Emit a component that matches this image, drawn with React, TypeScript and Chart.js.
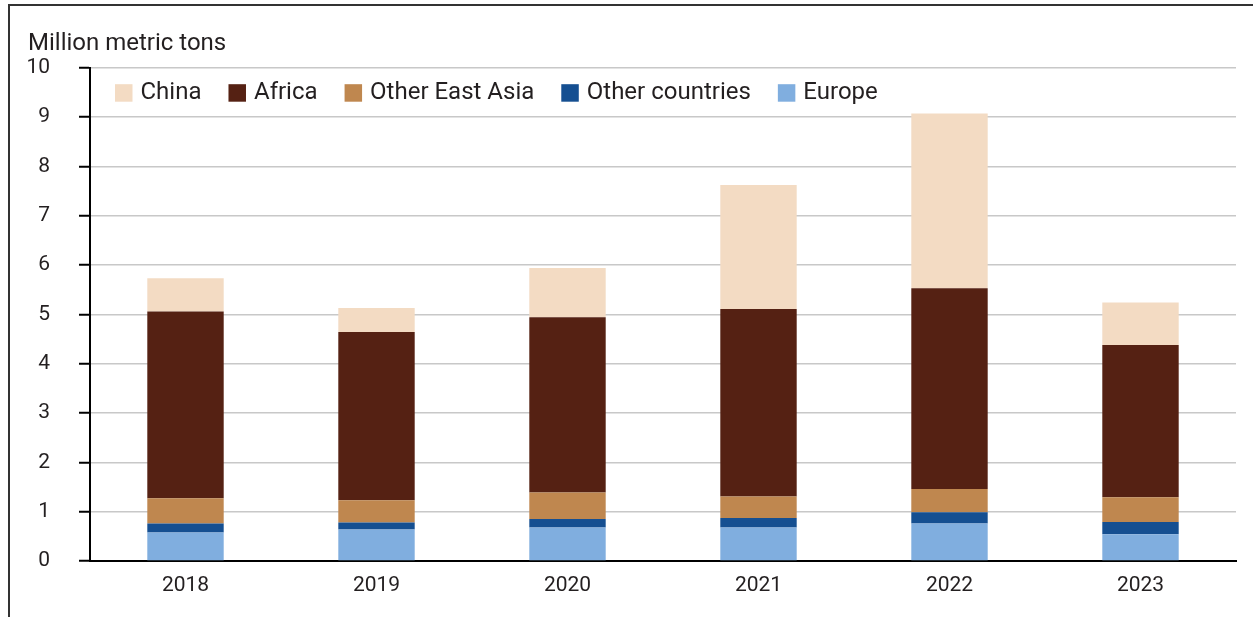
import React, { useEffect, useRef } from "react";
import { Chart, registerables } from "chart.js";

Chart.register(...registerables);

const years = ["2018", "2019", "2020", "2021", "2022", "2023"];
const europe = [0.58, 0.64, 0.68, 0.68, 0.76, 0.54];
const otherCountries = [0.18, 0.14, 0.17, 0.19, 0.23, 0.25];
const otherEastAsia = [0.51, 0.45, 0.54, 0.44, 0.47, 0.5];
const africa = [3.79, 3.41, 3.55, 3.8, 4.07, 3.09];
const china = [0.67, 0.49, 1.0, 2.51, 3.54, 0.86];
const yTicks = [0, 1, 2, 3, 4, 5, 6, 7, 8, 9, 10];
const yTitle = "Million metric tons";

const FONT = "Roboto, 'Liberation Sans', Arial, sans-serif";
const TEXT = "#231f20";

const titlePlugin = {
  id: "yTitleText",
  afterDraw(chart: any) {
    const ctx = chart.ctx;
    ctx.save();
    ctx.font = `24px ${FONT}`;
    ctx.fillStyle = TEXT;
    ctx.textAlign = "left";
    ctx.textBaseline = "alphabetic";
    ctx.fillText(yTitle, 28, 50);
    ctx.restore();
  },
};

const legendPlugin = {
  id: "insideLegend",
  afterDraw(chart: any) {
    const ctx = chart.ctx;
    const ds = chart.data.datasets.slice().reverse();
    ctx.save();
    ctx.font = `24px ${FONT}`;
    ctx.textAlign = "left";
    ctx.textBaseline = "middle";
    let x = chart.chartArea.left + 25;
    const box = 17.5;
    const top = 84.2;
    ds.forEach((d: any) => {
      ctx.fillStyle = d.backgroundColor;
      ctx.fillRect(x, top, box, box);
      const tx = x + box + 8;
      ctx.fillStyle = TEXT;
      ctx.fillText(d.label, tx, top + box / 2 + 0.5);
      const w = ctx.measureText(d.label).width;
      x = tx + w + 27;
    });
    ctx.restore();
  },
};

export default function App() {
  const ref = useRef<HTMLCanvasElement | null>(null);

  useEffect(() => {
    if (!ref.current) return;
    const chart = new Chart(ref.current, {
      type: "bar",
      data: {
        labels: years,
        datasets: [
          { label: "Europe", data: europe, backgroundColor: "#80aedf" },
          { label: "Other countries", data: otherCountries, backgroundColor: "#154f91" },
          { label: "Other East Asia", data: otherEastAsia, backgroundColor: "#bf874f" },
          { label: "Africa", data: africa, backgroundColor: "#552113" },
          { label: "China", data: china, backgroundColor: "#f3dbc3" },
        ],
      },
      options: {
        responsive: false,
        animation: false,
        layout: { padding: { left: 28, top: 67.7, right: 17, bottom: 0 } },
        datasets: {
          bar: { barPercentage: 0.4, categoryPercentage: 1.0, borderWidth: 0 },
        },
        plugins: {
          legend: { display: false },
          tooltip: { enabled: false },
          title: { display: false },
        },
        scales: {
          x: {
            stacked: true,
            afterFit: (s: any) => {
              s.height = 56;
            },
            grid: { display: false, drawTicks: false },
            border: { display: true, color: "#000", width: 2 },
            ticks: {
              color: TEXT,
              font: { family: FONT, size: 21 },
              padding: 12,
              maxRotation: 0,
            },
          },
          y: {
            stacked: true,
            min: 0,
            max: 10,
            afterFit: (s: any) => {
              s.width = 62;
            },
            afterBuildTicks: (s: any) => {
              s.ticks = yTicks.map((v) => ({ value: v }));
            },
            grid: {
              color: "#c8c8c8",
              lineWidth: 1.5,
              tickColor: "#000",
              tickWidth: 2,
              tickLength: 11,
            },
            border: { display: true, color: "#000", width: 2 },
            ticks: {
              color: TEXT,
              font: { family: FONT, size: 21 },
              padding: 29,
            },
          },
        },
      },
      plugins: [titlePlugin, legendPlugin],
    });
    return () => chart.destroy();
  }, []);

  return (
    <div
      style={{
        position: "fixed",
        left: 0,
        top: 0,
        width: 1253,
        height: 617,
        overflow: "hidden",
        background: "#fff",
      }}
    >
      <div
        style={{
          position: "absolute",
          left: 8,
          top: 4,
          width: 1300,
          height: 700,
          borderTop: "2px solid #333",
          borderLeft: "2px solid #333",
        }}
      />
      <canvas
        ref={ref}
        width={1253}
        height={617}
        style={{ position: "absolute", left: 0, top: 0, width: 1253, height: 617 }}
      />
    </div>
  );
}
